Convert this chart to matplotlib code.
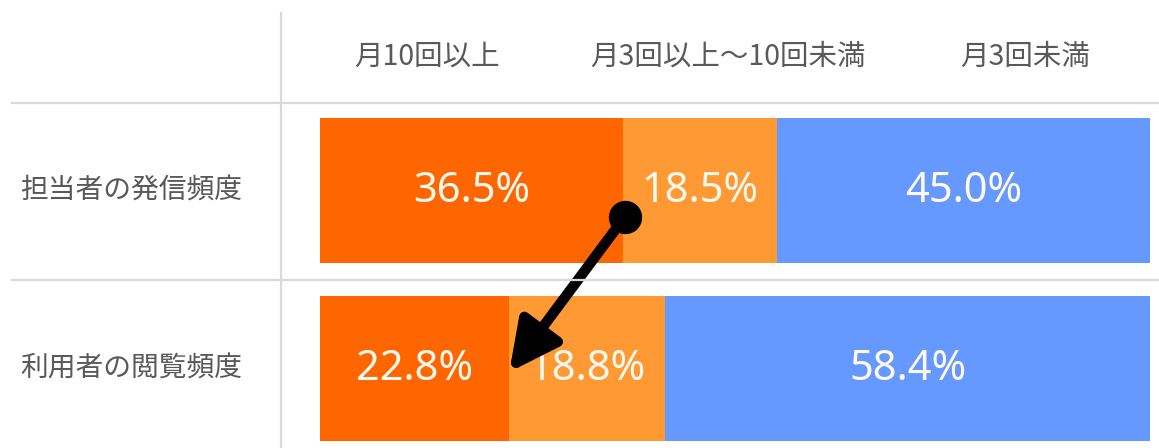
import matplotlib
matplotlib.use("Agg")
import matplotlib.pyplot as plt
from matplotlib.lines import Line2D
import numpy as np

plt.rcParams['font.family'] = ['Noto Sans CJK JP', 'DejaVu Sans']

# ---- data ----
rows = ["担当者の発信頻度", "利用者の閲覧頻度"]
columns = ["月10回以上", "月3回以上～10回未満", "月3回未満"]
high = [36.5, 22.8]
mid = [18.5, 18.8]
low = [45.0, 58.4]
colors = ["#FF6600", "#FF9933", "#6699FF"]

W, H = 1159, 448
fig = plt.figure(figsize=(W / 100, H / 100), dpi=100)
fig.patch.set_facecolor("white")

# bar axes: x from pixel 320 to 1150, full height
ax = fig.add_axes([320 / W, 0, 830 / W, 1])
row_px = 178.0
c0 = 190.5
ax.set_xlim(0, 100)
ax.set_ylim((H - c0) / row_px, -c0 / row_px)
ax.axis("off")

ypos = np.arange(len(rows))
series = [high, mid, low]
left = np.zeros(len(rows))
for vals, col in zip(series, colors):
    vals = np.array(vals)
    ax.barh(ypos, vals, left=left, height=0.815, color=col, edgecolor="none")
    for y, l, v in zip(ypos, left, vals):
        ax.text(l + v / 2, y, f"{v:.1f}%", ha="center", va="center",
                color="#FFF9F0", fontsize=30, family=["Noto Sans", "DejaVu Sans"])
    left = left + vals

# table grid lines
gray = "#D9D9D9"
for yline in [-0.49, 0.5]:
    yfig = 1 - (c0 + yline * row_px) / H
    fig.add_artist(Line2D([12 / W, 1.0], [yfig, yfig], color=gray, lw=1.6))
fig.add_artist(Line2D([281 / W, 281 / W], [0, 1 - 13 / H], color=gray, lw=1.6))

# column headers
header_x = [427, 728, 1025]
for hx, name in zip(header_x, columns):
    fig.text(hx / W, 1 - 57 / H, name, ha="center", va="center",
             color="#595959", fontsize=20.5)

# row labels
for y, name in zip(ypos, rows):
    fig.text(20 / W, 1 - (c0 + y * row_px) / H, name, ha="left", va="center",
             color="#595959", fontsize=20)

# arrow from row 1 boundary to row 2 first segment end
start = (high[0] + 0.2, 0.15)
end = (high[1], 1.02)
ax.annotate("", xy=end, xytext=start,
            arrowprops=dict(arrowstyle="-|>,head_length=1.0,head_width=0.5",
                            lw=7.5, color="black", mutation_scale=30,
                            shrinkA=0, shrinkB=0))
ax.plot([start[0]], [start[1]], marker="o", markersize=23, color="black")

fig.savefig("out.png", dpi=100, facecolor="white")
